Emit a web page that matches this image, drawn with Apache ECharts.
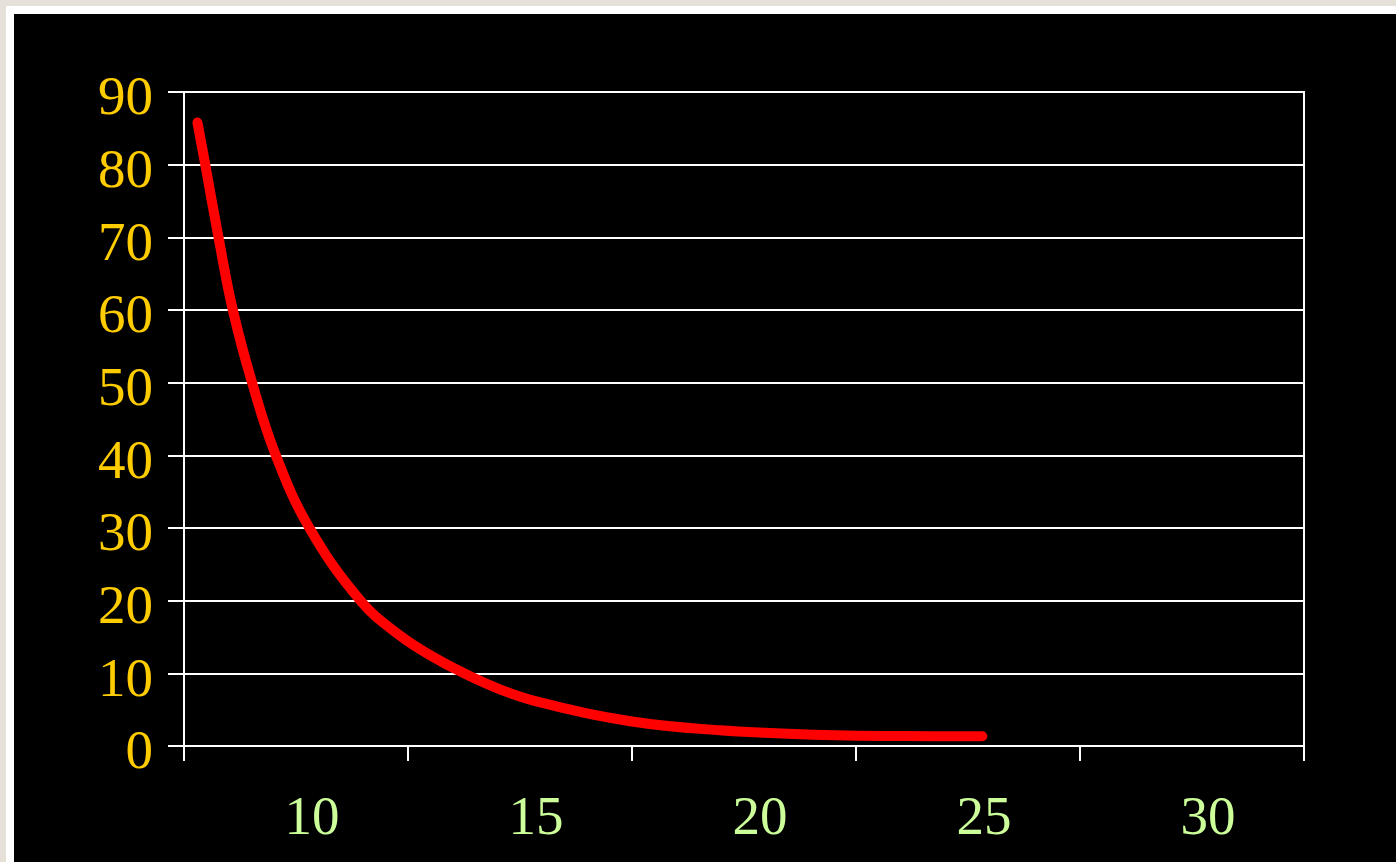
<!DOCTYPE html>
<html>
<head>
<meta charset="utf-8">
<script src="https://cdn.jsdelivr.net/npm/echarts@6/dist/echarts.min.js"></script>
<style>
  html, body { margin: 0; padding: 0; width: 1396px; height: 862px; overflow: hidden; background: #e6e1d8; }
  #frame { position: absolute; left: 6px; top: 6px; width: 1400px; height: 870px; background: #ffffff; }
  #inner { position: absolute; left: 14px; top: 14px; width: 1400px; height: 870px; background: #000000; }
  #chart { position: absolute; left: 0; top: 0; width: 1396px; height: 862px; }
</style>
</head>
<body>
<div id="frame"></div>
<div id="inner"></div>
<div id="chart"></div>
<script>
// x-axis tick labels (shown between ticks, as in the reference)
const xLabels = ['10', '15', '20', '25', '30'];
// curve sample points
const curveX = [5.30, 5.475, 5.77, 6.09, 6.52, 7.05, 7.80, 8.94, 9.82, 10.55, 11.25, 12.05, 12.95, 14.96, 16.96, 19.04, 21.14, 22.82];
const curveY = [85.8, 80.0, 70.0, 60.0, 50.0, 40.0, 30.0, 20.0, 15.2, 12.3, 10.0, 7.8, 6.0, 3.4, 2.16, 1.56, 1.36, 1.35];

const curve = curveX.map((x, i) => [x, curveY[i]]);
const font = '"Liberation Serif", "DejaVu Serif", serif';

const chart = echarts.init(document.getElementById('chart'), null, { renderer: 'canvas' });
chart.setOption({
  backgroundColor: 'transparent',
  animation: false,
  grid: { left: 184, right: 92, top: 92, bottom: 116, show: true, borderColor: '#ffffff', borderWidth: 2, backgroundColor: 'transparent' },
  xAxis: [
    {
      type: 'category',
      data: xLabels,
      boundaryGap: true,
      position: 'bottom',
      axisLine: { show: true, lineStyle: { color: '#ffffff', width: 2 } },
      axisTick: { show: true, length: 15, lineStyle: { color: '#ffffff', width: 2 } },
      axisLabel: { color: '#CCFF99', fontFamily: font, fontSize: 55, margin: 46, padding: [0, 0, 0, 32] },
      splitLine: { show: false }
    },
    {
      type: 'value',
      min: 5, max: 30, interval: 5,
      show: false,
      splitLine: { show: false }
    }
  ],
  yAxis: {
    type: 'value',
    min: 0, max: 90, interval: 10,
    axisLine: { show: true, lineStyle: { color: '#ffffff', width: 2 } },
    axisTick: { show: true, length: 16, lineStyle: { color: '#ffffff', width: 2 } },
    axisLabel: { color: '#FFCC00', fontFamily: font, fontSize: 55, margin: 31, verticalAlign: 'top', lineHeight: 16 },
    splitLine: { show: true, lineStyle: { color: '#ffffff', width: 2 } }
  },
  series: [{
    type: 'line',
    xAxisIndex: 1,
    data: curve,
    smooth: 0.4,
    showSymbol: false,
    lineStyle: { color: '#FF0000', width: 10, cap: 'round', join: 'round' }
  }]
});
</script>
</body>
</html>
